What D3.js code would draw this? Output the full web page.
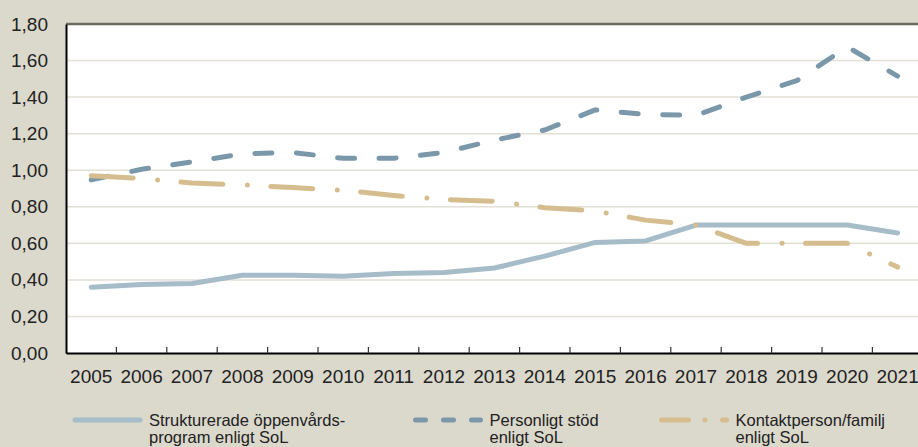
<!DOCTYPE html>
<html>
<head>
  <meta charset="utf-8">
  <title>Insatser enligt SoL</title>
  <script src="https://cdn.jsdelivr.net/npm/d3@7"></script>
  <style>
    body { margin: 0; background: #dbd8cc; }
    svg { display: block; font-family: "Liberation Sans", Arial, sans-serif; }
    .axis text { fill: #222; font-size: 19px; }
    .legend text { fill: #222; font-size: 16.5px; }
  </style>
</head>
<body>
<svg width="918" height="447"></svg>
<script>

var years = d3.range(2005, 2022);
var yTicks = [0, 0.2, 0.4, 0.6, 0.8, 1.0, 1.2, 1.4, 1.6, 1.8];

var strukturerade = [0.36, 0.375, 0.38, 0.425, 0.425, 0.42, 0.435, 0.44, 0.465, 0.53, 0.605, 0.613, 0.70, 0.70, 0.70, 0.70, 0.657];
var personligt    = [0.947, 1.005, 1.045, 1.09, 1.097, 1.065, 1.065, 1.097, 1.165, 1.22, 1.33, 1.305, 1.30, 1.40, 1.49, 1.675, 1.515];
var kontakt       = [0.97, 0.955, 0.93, 0.92, 0.905, 0.89, 0.862, 0.84, 0.83, 0.795, 0.777, 0.727, 0.70, 0.60, 0.60, 0.60, 0.47];

var series = [
  {name: ["Strukturerade öppenvårds-", "program enligt SoL"], values: strukturerade, color: "#a6bdc9", dash: null, legendDash: null, lx: 75},
  {name: ["Personligt stöd", "enligt SoL"], values: personligt, color: "#7b98aa", dash: "17,24.5", legendDash: "10,18", lx: 415.5},
  {name: ["Kontaktperson/familj", "enligt SoL"], values: kontakt, color: "#d5bd8f", dash: "42,24.5,0.1,23.4", legendDash: "27,16.5,0.1,17.4", lx: 661.5}
];

var svg = d3.select("svg"),
    margin = {top: 24, left: 66, bottom: 94},
    width = 918,
    height = +svg.attr("height");

var x = d3.scaleBand().domain(years).range([margin.left, margin.left + 17 * 50.4]),
    y = d3.scaleLinear().domain([0, 1.8]).range([height - margin.bottom, margin.top]);

function cx(d) { return x(d) + x.bandwidth() / 2; }

// plot background
svg.append("rect")
    .attr("x", margin.left)
    .attr("y", y(1.8))
    .attr("width", width - margin.left)
    .attr("height", y(0) - y(1.8))
    .attr("fill", "#fff");

// gridlines
svg.append("g")
  .selectAll("line")
  .data(yTicks.filter(function(d) { return d > 0 && d < 1.8; }))
  .enter().append("line")
    .attr("x1", margin.left)
    .attr("x2", width)
    .attr("y1", function(d) { return y(d); })
    .attr("y2", function(d) { return y(d); })
    .attr("stroke", "#e2dfd4")
    .attr("stroke-width", 1.5);

// top border
svg.append("line")
    .attr("x1", margin.left).attr("x2", width)
    .attr("y1", y(1.8)).attr("y2", y(1.8))
    .attr("stroke", "#6b6a63")
    .attr("stroke-width", 2.5);

// y axis
var yAxis = svg.append("g")
    .attr("class", "axis")
    .attr("transform", "translate(" + margin.left + ",0)")
    .call(d3.axisLeft(y).tickValues(yTicks).tickSize(0).tickPadding(18)
      .tickFormat(function(d) { return d.toFixed(2).replace(".", ","); }));
yAxis.select(".domain").attr("stroke", "#000").attr("stroke-width", 2);

// x axis
var xAxis = svg.append("g")
    .attr("class", "axis")
    .attr("transform", "translate(0," + y(0) + ")")
    .call(d3.axisBottom(x).tickSize(0).tickPadding(17));
xAxis.select(".domain").attr("stroke", "#000").attr("stroke-width", 2);

// tick marks between categories, pointing up
svg.append("g")
  .selectAll("line")
  .data(years.slice(1))
  .enter().append("line")
    .attr("x1", function(d) { return x(d); })
    .attr("x2", function(d) { return x(d); })
    .attr("y1", y(0))
    .attr("y2", y(0) - 6)
    .attr("stroke", "#333")
    .attr("stroke-width", 1.2);

// lines
var line = d3.line()
    .x(function(d, i) { return cx(years[i]); })
    .y(function(d) { return y(d); });

svg.append("g")
  .selectAll("path")
  .data(series)
  .enter().append("path")
    .attr("d", function(s) { return line(s.values); })
    .attr("fill", "none")
    .attr("stroke", function(s) { return s.color; })
    .attr("stroke-width", 5)
    .attr("stroke-linecap", "round")
    .attr("stroke-linejoin", "round")
    .attr("stroke-dasharray", function(s) { return s.dash; });

// legend
var legend = svg.append("g")
    .attr("class", "legend")
  .selectAll("g")
  .data(series)
  .enter().append("g");

legend.append("line")
    .attr("x1", function(s) { return s.lx; })
    .attr("x2", function(s) { return s.lx + 65; })
    .attr("y1", 420)
    .attr("y2", 420)
    .attr("stroke", function(s) { return s.color; })
    .attr("stroke-width", 5)
    .attr("stroke-linecap", "round")
    .attr("stroke-dasharray", function(s) { return s.legendDash; });

legend.append("text")
    .attr("x", function(s) { return s.lx + 74; })
    .attr("y", 426)
  .selectAll("tspan")
  .data(function(s) { return s.name; })
  .enter().append("tspan")
    .attr("x", function(d, i, nodes) { return +d3.select(nodes[i].parentNode).attr("x"); })
    .attr("dy", function(d, i) { return i ? 17 : 0; })
    .text(function(d) { return d; });

</script>
</body>
</html>
